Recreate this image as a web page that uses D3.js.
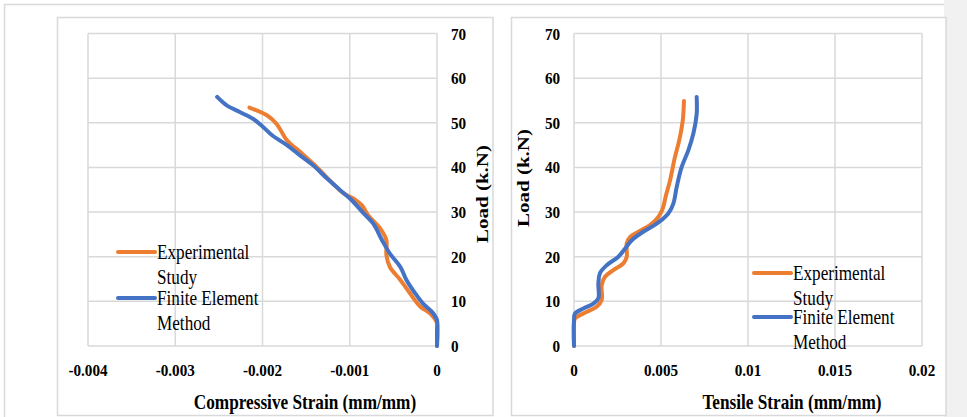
<!DOCTYPE html>
<html><head><meta charset="utf-8">
<script src="https://cdn.jsdelivr.net/npm/d3@7"></script>
<style>html,body{margin:0;padding:0;background:#fff;}svg{display:block;}</style>
</head><body>
<svg id="c" width="967" height="417"></svg>
<script>
// ---- data ----
const loadTicks = [0, 10, 20, 30, 40, 50, 60, 70];
const compTicks = [-0.004, -0.003, -0.002, -0.001, 0];
const compTickLabels = ["-0.004", "-0.003", "-0.002", "-0.001", "0"];
const tensTicks = [0, 0.005, 0.01, 0.015, 0.02];
const tensTickLabels = ["0", "0.005", "0.01", "0.015", "0.02"];
const seriesNames = ["Experimental Study", "Finite Element Method"];

const compExpStrain = [-0.00215,-0.00195,-0.00184,-0.00172,-0.00157,-0.0014,-0.00123,-0.00107,-0.00094,-0.00086,-0.00079,-0.00065,-0.00058,-0.00058,-0.00054,-0.00042,-0.00031,-0.00019,-0.00008,0,0];
const compExpLoad   = [53.4,51.7,49.8,46.1,43.5,40.5,37.1,34.2,32.8,31.5,29.3,26.3,23.7,20.4,17.7,14.8,11.8,8.8,7.3,5.1,0];
const compFemStrain = [-0.00252,-0.00241,-0.00226,-0.00211,-0.00199,-0.00189,-0.00172,-0.00157,-0.00142,-0.00126,-0.00111,-0.00098,-0.00084,-0.00073,-0.00063,-0.00054,-0.00042,-0.00035,-0.00025,-0.00016,-0.00006,0,0,0];
const compFemLoad   = [55.8,53.9,52.4,50.9,49.0,47.2,45.0,42.7,40.5,37.5,34.9,32.7,29.7,27.4,23.7,20.7,17.7,14.8,11.8,9.5,7.7,5.8,3.6,0];

const tensExpStrain = [0.00632,0.00625,0.00605,0.0058,0.00552,0.00529,0.0051,0.00485,0.00437,0.0037,0.00322,0.00303,0.00303,0.00284,0.00226,0.00178,0.00159,0.00159,0.0013,0.00054,0.00006,0,0];
const tensExpLoad   = [54.9,50.5,46.1,42.3,37.1,33.8,30.8,28.9,27.1,25.6,24.4,23.0,20.0,18.5,17.0,15.5,13.6,10.3,8.8,7.3,6.2,5.1,0];
const tensFemStrain = [0.00705,0.00705,0.00686,0.00657,0.00619,0.0059,0.00571,0.00542,0.00475,0.00398,0.00332,0.00293,0.00255,0.00188,0.00149,0.0014,0.0014,0.00111,0.00054,0.00006,0,0];
const tensFemLoad   = [55.8,52.0,47.6,43.8,40.1,35.6,31.9,29.7,27.4,25.6,23.7,21.8,20.0,18.1,16.3,14.0,10.7,9.5,8.4,7.3,5.8,0];

// ---- styles ----
const ORANGE = "#ED7D31", BLUE = "#4472C4", GRID = "#d9d9d9";
const FONT = "'Liberation Serif','Times New Roman',serif";

const svg = d3.select("#c");

// background strip & borders
svg.append("rect").attr("x",944).attr("y",0).attr("width",23).attr("height",417).attr("fill","#f1f1f1");
svg.append("path").attr("d","M4.5,417 V4.5 H944").attr("fill","none").attr("stroke",GRID).attr("stroke-width",1.5);
svg.append("rect").attr("x",57.5).attr("y",17.5).attr("width",435.5).attr("height",398).attr("fill","#fff").attr("stroke",GRID).attr("stroke-width",1.5);
svg.append("rect").attr("x",511.5).attr("y",17.5).attr("width",434.5).attr("height",398).attr("fill","#fff").attr("stroke",GRID).attr("stroke-width",1.5);

function txt(g, s, x, y, size, weight, anchor, sx, rot) {
  const t = g.append("text").text(s)
    .attr("font-family", FONT).attr("font-size", size).attr("font-weight", weight)
    .attr("text-anchor", anchor).attr("fill", "#000");
  if (rot) t.attr("transform", `translate(${x},${y}) rotate(-90) scale(1,${sx})`);
  else t.attr("transform", `translate(${x},${y}) scale(${sx},1)`);
  return t;
}

function panel(cfg) {
  const g = svg.append("g");
  const x = d3.scaleLinear().domain(cfg.xDomain).range([cfg.x0, cfg.x1]);
  const y = d3.scaleLinear().domain([0, 70]).range([346, 33.5]);

  // gridlines
  g.selectAll(".hg").data(loadTicks).join("line")
    .attr("x1", cfg.x0).attr("x2", cfg.x1)
    .attr("y1", d => y(d)).attr("y2", d => y(d))
    .attr("stroke", GRID).attr("stroke-width", 1.5);
  g.selectAll(".vg").data(cfg.xTicks).join("line")
    .attr("x1", d => x(d)).attr("x2", d => x(d))
    .attr("y1", y(0)).attr("y2", y(70))
    .attr("stroke", GRID).attr("stroke-width", 1.5);

  // x tick labels
  cfg.xTicks.forEach((d, i) => txt(g, cfg.xLabels[i], x(d), 376, 17, "bold", "middle", 0.89));
  // y tick labels
  loadTicks.forEach(d => txt(g, String(d), cfg.yLabX, y(d) + 6, 17, "bold", cfg.yAnchor, 0.89));

  // titles
  txt(g, cfg.xTitle, cfg.xTitleX, 409, 21, "bold", "middle", 0.82);
  txt(g, "Load (k.N)", cfg.yTitleX, cfg.yTitleY, 21, "bold", "middle", 0.82, true);

  const line = d3.line().x(d => x(d[0])).y(d => y(d[1])).curve(d3.curveCatmullRom.alpha(0.5));
  const series = [
    { s: cfg.exp, c: ORANGE },
    { s: cfg.fem, c: BLUE }
  ];
  series.forEach(o => {
    g.append("path").datum(d3.zip(o.s[0], o.s[1])).attr("d", line)
      .attr("fill", "none").attr("stroke", o.c).attr("stroke-width", 4)
      .attr("stroke-linecap", "round").attr("stroke-linejoin", "round");
  });

  // legend
  const L = cfg.legend;
  const lines = [["Experimental", "Study"], ["Finite Element", "Method"]];
  [ORANGE, BLUE].forEach((c, i) => {
    const ly = L.y + i * L.gap;
    g.append("line").attr("x1", L.x).attr("x2", L.x + 37).attr("y1", ly).attr("y2", ly)
      .attr("stroke", c).attr("stroke-width", 4).attr("stroke-linecap", "round");
    txt(g, lines[i][0], L.x + 39, ly + 7, 22, "normal", "start", 0.78);
    txt(g, lines[i][1], L.x + 39, ly + 32, 22, "normal", "start", 0.78);
  });
}

panel({
  xDomain: [-0.004, 0], x0: 88, x1: 437,
  xTicks: compTicks, xLabels: compTickLabels,
  yLabX: 451, yAnchor: "start",
  xTitle: "Compressive Strain (mm/mm)", xTitleX: 305,
  yTitleX: 488, yTitleY: 194,
  exp: [compExpStrain, compExpLoad], fem: [compFemStrain, compFemLoad],
  legend: { x: 118, y: 252, gap: 46 }
});

panel({
  xDomain: [0, 0.02], x0: 574, x1: 922,
  xTicks: tensTicks, xLabels: tensTickLabels,
  yLabX: 560, yAnchor: "end",
  xTitle: "Tensile Strain (mm/mm)", xTitleX: 792,
  yTitleX: 529, yTitleY: 178,
  exp: [tensExpStrain, tensExpLoad], fem: [tensFemStrain, tensFemLoad],
  legend: { x: 754, y: 273, gap: 44 }
});
</script>
</body></html>
